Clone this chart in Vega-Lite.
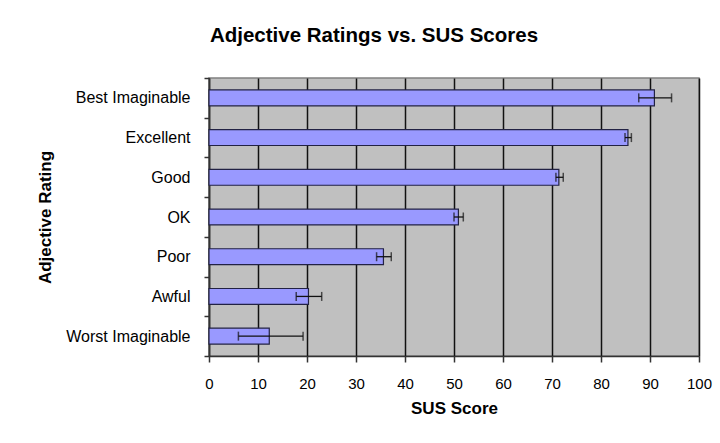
{
  "$schema": "https://vega.github.io/schema/vega-lite/v6.json",
  "autosize": "none",
  "width": 490,
  "height": 278,
  "padding": {"left": 209, "top": 78, "right": 21, "bottom": 87},
  "background": "white",
  "title": {
    "text": "Adjective Ratings vs. SUS Scores",
    "font": "Liberation Sans",
    "fontSize": 20.5,
    "fontWeight": "bold",
    "color": "black",
    "anchor": "middle",
    "frame": "group",
    "dx": -80,
    "offset": 24
  },
  "config": {
    "font": "Liberation Sans",
    "view": {"fill": "#C0C0C0", "stroke": "#808080", "strokeWidth": 1.5}
  },
  "data": {
    "values": [
      {"rating": "Best Imaginable", "score": 90.9, "lo": 87.7, "hi": 94.4},
      {"rating": "Excellent", "score": 85.5, "lo": 84.9, "hi": 86.2},
      {"rating": "Good", "score": 71.4, "lo": 70.8, "hi": 72.3},
      {"rating": "OK", "score": 50.9, "lo": 50.0, "hi": 51.9},
      {"rating": "Poor", "score": 35.6, "lo": 34.2, "hi": 37.2},
      {"rating": "Awful", "score": 20.3, "lo": 17.8, "hi": 23.0},
      {"rating": "Worst Imaginable", "score": 12.3, "lo": 6.0, "hi": 19.2}
    ]
  },
  "encoding": {
    "y": {
      "field": "rating",
      "type": "nominal",
      "sort": null,
      "scale": {"paddingInner": 0, "paddingOuter": 0},
      "axis": {
        "title": "Adjective Rating",
        "titleFont": "Liberation Sans",
        "titleFontSize": 17,
        "titleFontWeight": "bold",
        "titleColor": "black",
        "titlePadding": 11,
        "labelFont": "Liberation Sans",
        "labelFontSize": 16,
        "labelColor": "black",
        "labelPadding": 14,
        "tickBand": "extent",
        "tickSize": 5,
        "tickColor": "#333333",
        "tickWidth": 1.5,
        "domainColor": "#333333",
        "domainWidth": 1.5,
        "grid": false
      }
    }
  },
  "layer": [
    {
      "mark": {"type": "bar", "fill": "#9999FF", "stroke": "#222244", "strokeWidth": 1.2, "height": {"band": 0.4}},
      "encoding": {
        "x": {
          "field": "score",
          "type": "quantitative",
          "scale": {"domain": [0, 100], "nice": false},
          "axis": {
            "title": "SUS Score",
            "titleFont": "Liberation Sans",
            "titleFontSize": 17,
            "titleFontWeight": "bold",
            "titleColor": "black",
            "titlePadding": 9,
            "values": [0, 10, 20, 30, 40, 50, 60, 70, 80, 90, 100],
            "labelFont": "Liberation Sans",
            "labelFontSize": 15,
            "labelColor": "black",
            "labelPadding": 14,
            "labelFlush": false,
            "tickSize": 6,
            "tickColor": "#333333",
            "tickWidth": 1.5,
            "domainColor": "#333333",
            "domainWidth": 1.5,
            "grid": true,
            "gridColor": "#111111",
            "gridWidth": 1.5
          }
        }
      }
    },
    {
      "mark": {"type": "rule", "color": "#111111", "strokeWidth": 1.3},
      "encoding": {
        "x": {"field": "lo", "type": "quantitative"},
        "x2": {"field": "hi"}
      }
    },
    {
      "mark": {"type": "tick", "color": "#111111", "thickness": 1.5, "size": 9},
      "encoding": {"x": {"field": "lo", "type": "quantitative"}}
    },
    {
      "mark": {"type": "tick", "color": "#111111", "thickness": 1.5, "size": 9},
      "encoding": {"x": {"field": "hi", "type": "quantitative"}}
    }
  ]
}
